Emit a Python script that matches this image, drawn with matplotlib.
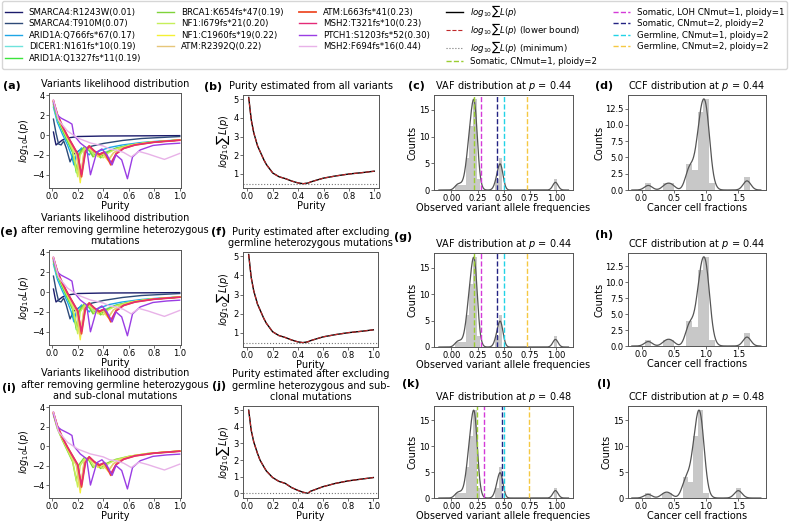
import numpy as np
import matplotlib.pyplot as plt

W, H = 789, 523

# variants and the purity each one gives
variant_names = ['SMARCA4:R1243W(0.01)', 'SMARCA4:T910M(0.07)', 'ARID1A:Q766fs*67(0.17)',
                 'DICER1:N161fs*10(0.19)', 'ARID1A:Q1327fs*11(0.19)', 'BRCA1:K654fs*47(0.19)',
                 'NF1:I679fs*21(0.20)', 'NF1:C1960fs*19(0.22)', 'ATM:R2392Q(0.22)',
                 'ATM:L663fs*41(0.23)', 'MSH2:T321fs*10(0.23)', 'PTCH1:S1203fs*52(0.30)',
                 'MSH2:F694fs*16(0.44)']
variant_colors = ['#1b1b6b', '#2e4a78', '#1ea6e6', '#6fe3dc', '#3ce43c', '#7fd33a',
                  '#c6ef5a', '#f4f034', '#e6c67a', '#ee4d2a', '#e42a78', '#9a3de4', '#e8b2e8']
clonal_idx = [5, 6, 7, 8, 9, 10, 11, 12]

# log10 L(p), knots per variant
p_dicer = [0.01, 0.04, 0.08, 0.12, 0.16, 0.19, 0.21, 0.25, 0.29, 0.32, 0.35, 0.38, 0.42, 0.5, 0.6, 0.75, 0.9, 1.0]
p_nf1 = [0.01, 0.04, 0.08, 0.12, 0.16, 0.2, 0.22, 0.26, 0.3, 0.33, 0.36, 0.4, 0.44, 0.5, 0.6, 0.75, 0.9, 1.0]
p_atm = [0.01, 0.04, 0.08, 0.12, 0.16, 0.19, 0.22, 0.25, 0.28, 0.32, 0.36, 0.39, 0.44, 0.48, 0.55, 0.65, 0.8, 1.0]
p_l663 = [0.01, 0.04, 0.08, 0.12, 0.16, 0.2, 0.23, 0.26, 0.29, 0.33, 0.37, 0.41, 0.46, 0.5, 0.56, 0.65, 0.8, 1.0]
lik_purity = [
    [0.01, 0.02, 0.03, 0.05, 0.08, 0.12, 0.2, 0.4, 0.7, 1.0],
    [0.01, 0.03, 0.05, 0.07, 0.09, 0.11, 0.14, 0.17, 0.22, 0.3, 0.4, 0.55, 0.7, 0.85, 1.0],
    [0.01, 0.04, 0.08, 0.12, 0.15, 0.17, 0.19, 0.23, 0.26, 0.29, 0.31, 0.34, 0.37, 0.45, 0.55, 0.7, 0.85, 1.0],
    p_dicer, p_dicer, p_dicer, p_nf1, p_atm, p_atm, p_l663, p_l663,
    [0.01, 0.04, 0.07, 0.1, 0.13, 0.155, 0.17, 0.22, 0.27, 0.3, 0.35, 0.39, 0.43, 0.47, 0.5, 0.545,
     0.59, 0.63, 0.69, 0.79, 0.9, 1.0],
    [0.01, 0.05, 0.12, 0.2, 0.3, 0.4, 0.45, 0.5, 0.56, 0.62, 0.68, 0.75, 0.82, 0.88, 0.94, 1.0],
]
lik_value = [
    [0.3, -0.4, -1.0, -0.8, -0.5, -0.3, -0.15, -0.1, -0.08, -0.06],
    [1.6, 0.2, -0.9, -1.0, -0.6, -1.3, -2.7, -1.9, -1.5, -1.15, -0.85, -0.55, -0.35, -0.25, -0.15],
    [2.8, 1.3, 0.1, -1.0, -2.0, -3.0, -1.9, -1.3, -1.6, -2.0, -1.7, -1.9, -1.6, -1.25, -1.0, -0.75, -0.6, -0.5],
    [3.0, 1.6, 0.4, -0.7, -1.8, -3.4, -2.0, -1.4, -1.6, -2.0, -1.7, -2.1, -1.7, -1.3, -1.0, -0.75, -0.6, -0.5],
    [3.1, 1.7, 0.5, -0.6, -1.7, -3.8, -2.0, -1.3, -1.5, -2.1, -1.8, -2.2, -1.8, -1.35, -1.05, -0.75, -0.6, -0.5],
    [3.2, 1.8, 0.6, -0.5, -1.6, -3.6, -1.9, -1.2, -1.5, -2.2, -1.9, -2.3, -1.8, -1.35, -1.05, -0.75, -0.6, -0.5],
    [3.3, 1.9, 0.7, -0.4, -1.5, -4.2, -2.0, -1.2, -1.5, -2.1, -1.8, -2.3, -1.8, -1.4, -1.05, -0.75, -0.6, -0.5],
    [3.4, 2.0, 0.8, -0.2, -1.2, -2.0, -4.8, -1.6, -1.2, -1.6, -2.2, -1.8, -2.6, -1.8, -1.3, -0.95, -0.7, -0.5],
    [3.4, 2.0, 0.8, -0.2, -1.2, -2.0, -4.4, -1.6, -1.2, -1.6, -2.1, -1.8, -2.5, -1.8, -1.3, -0.95, -0.7, -0.5],
    [3.4, 2.1, 0.9, -0.1, -1.0, -1.9, -4.2, -1.7, -1.1, -1.6, -2.0, -1.7, -3.0, -1.9, -1.35, -1.0, -0.72, -0.52],
    [3.5, 2.1, 0.9, -0.1, -1.0, -1.9, -4.0, -1.7, -1.1, -1.6, -1.9, -1.7, -2.8, -1.9, -1.35, -1.0, -0.72, -0.52],
    [3.3, 2.0, 1.7, 1.5, 1.3, 1.1, 0.0, -0.8, -1.3, -4.0, -1.7, -1.4, -2.0, -3.0, -2.0, -2.5,
     -4.4, -2.2, -1.5, -1.05, -0.9, -0.82],
    [3.5, 1.5, 0.4, -0.3, -0.8, -1.1, -1.4, -1.5, -1.75, -2.2, -1.65, -1.9, -2.2, -2.45, -2.15, -1.85],
]

# summed likelihood
sum_purity = [0.01, 0.03, 0.05, 0.08, 0.1, 0.13, 0.15, 0.2, 0.25, 0.3, 0.35, 0.4, 0.44, 0.48, 0.5,
              0.6, 0.7, 0.8, 0.9, 1.0]
sum_all = [5.1, 3.9, 3.2, 2.5, 2.2, 1.75, 1.5, 1.05, 0.85, 0.75, 0.62, 0.52, 0.48, 0.52, 0.58,
           0.78, 0.9, 1.0, 1.07, 1.15]
sum_clonal = [5.0, 3.8, 3.1, 2.4, 2.0, 1.6, 1.35, 0.95, 0.72, 0.6, 0.35, 0.18, 0.07, 0.0, 0.12,
              0.4, 0.6, 0.75, 0.85, 0.95]

# VAF histogram (bin centres, counts)
vaf_centers = [0.05, 0.085, 0.12, 0.155, 0.19, 0.225, 0.26, 0.435, 0.47, 0.995]
vaf_counts = [1, 1, 1, 6, 12, 17, 2, 2, 6, 2]
vaf_binw = 0.035

# CCF histograms
ccf44_centers = [0.105, 0.375, 0.465, 0.735, 0.825, 0.915, 1.005, 1.095, 1.635]
ccf44_counts = [1, 1, 1, 4, 3, 12, 14, 1, 2]
ccf44_binw = 0.09
ccf48_centers = [0.1, 0.35, 0.43, 0.68, 0.76, 0.84, 0.92, 1.0, 1.5]
ccf48_counts = [1, 1, 1, 4, 3, 12, 17, 1, 2]
ccf48_binw = 0.08

# expected VAF lines for each purity
line_labels = ['Somatic, CNmut=1, ploidy=2', 'Somatic, LOH CNmut=1, ploidy=1',
               'Somatic, CNmut=2, ploidy=2', 'Germline, CNmut=1, ploidy=2',
               'Germline, CNmut=2, ploidy=2']
line_colors = ['yellowgreen', '#d43ad8', '#232383', '#22d3e6', '#f5c842']
vlines_44 = [0.22, 0.282, 0.44, 0.5, 0.72]
vlines_48 = [0.24, 0.316, 0.48, 0.5, 0.74]


def box(l, t, r, b):
    return [l / W, 1 - b / H, (r - l) / W, (b - t) / H]


def style(ax):
    for s in ax.spines.values():
        s.set_color('#555555')
        s.set_linewidth(0.7)
    ax.tick_params(labelsize=6, length=2, width=0.6, pad=1, color='#555555')


def kde(centers, counts, bw, grid):
    d = np.zeros_like(grid)
    for c, n in zip(centers, counts):
        d += n * np.exp(-0.5 * ((grid - c) / bw) ** 2)
    return d / d.max() * max(counts)


fig = plt.figure(figsize=(W / 100, H / 100), dpi=100)

tfs = 7
lfs = 7


def lik_panel(rect, idx, title):
    ax = fig.add_axes(box(*rect))
    hs = []
    for i in idx:
        lw = 1.3 if i == 9 else 1.0
        h, = ax.plot(lik_purity[i], lik_value[i], color=variant_colors[i], lw=lw,
                     label=variant_names[i])
        hs.append(h)
    ax.set_xlim(-0.025, 1.01)
    ax.set_ylim(-5.33, 4.23)
    ax.set_yticks([-4, -2, 0, 2, 4])
    ax.set_xticks([0, 0.2, 0.4, 0.6, 0.8, 1.0])
    ax.set_xlabel('Purity', fontsize=lfs, labelpad=0)
    ax.set_ylabel('$log_{10}L(p)$', fontsize=lfs, labelpad=1)
    ax.set_title(title, fontsize=tfs, pad=4)
    style(ax)
    return hs


def sum_panel(rect, vals, title, ylim, yticks):
    ax = fig.add_axes(box(*rect))
    h1, = ax.plot(sum_purity, vals, color='black', lw=1.0, label='$log_{10}\\sum L(p)$')
    h2, = ax.plot(sum_purity, vals, color='#c0282a', lw=0.8, ls='--',
                  label='$log_{10}\\sum L(p)$ (lower bound)')
    h3 = ax.axhline(min(vals), color='#777777', lw=0.8, ls=':',
                    label='$log_{10}\\sum L(p)$ (minimum)')
    ax.set_xlim(-0.035, 1.037)
    ax.set_ylim(*ylim)
    ax.set_yticks(yticks)
    ax.set_xticks([0, 0.2, 0.4, 0.6, 0.8, 1.0])
    ax.set_xlabel('Purity', fontsize=lfs, labelpad=0)
    ax.set_ylabel('$log_{10}\\sum L(p)$', fontsize=lfs, labelpad=1)
    ax.set_title(title, fontsize=tfs, pad=4)
    style(ax)
    return [h1, h2, h3]


def vaf_panel(rect, vl, title):
    ax = fig.add_axes(box(*rect))
    ax.bar(vaf_centers, vaf_counts, width=vaf_binw, color='#c8c8c8', lw=0)
    g = np.linspace(-0.12, 1.12, 400)
    ax.plot(g, kde(vaf_centers, vaf_counts, 0.025, g), color='#555555', lw=0.9)
    hs = []
    for x, c, lab in zip(vl, line_colors, line_labels):
        hs.append(ax.axvline(x, color=c, lw=1.0, ls='--', label=lab))
    ax.set_xlim(-0.167, 1.163)
    ax.set_ylim(0, 17.8)
    ax.set_yticks([0, 5, 10, 15])
    ax.set_xticks([0, 0.25, 0.5, 0.75, 1.0])
    ax.set_xticklabels(['0.00', '0.25', '0.50', '0.75', '1.00'])
    ax.set_xlabel('Observed variant allele frequencies', fontsize=lfs, labelpad=0)
    ax.set_ylabel('Counts', fontsize=lfs, labelpad=1)
    ax.set_title(title, fontsize=tfs, pad=4)
    style(ax)
    return hs


def ccf_panel(rect, centers, counts, bw, title, yticks, ylim):
    ax = fig.add_axes(box(*rect))
    ax.bar(centers, counts, width=bw, color='#c8c8c8', lw=0)
    g = np.linspace(-0.15, 1.85, 400)
    ax.plot(g, kde(centers, counts, 0.06, g), color='#555555', lw=0.9)
    ax.set_xlim(-0.21, 1.93)
    ax.set_ylim(*ylim)
    ax.set_yticks(yticks)
    ax.set_xticks([0, 0.5, 1.0, 1.5])
    ax.set_xlabel('Cancer cell fractions', fontsize=lfs, labelpad=0)
    ax.set_ylabel('Counts', fontsize=lfs, labelpad=1)
    ax.set_title(title, fontsize=tfs, pad=4)
    style(ax)


all_idx = list(range(len(variant_names)))
var_handles = lik_panel((49, 93, 181, 188), all_idx, 'Variants likelihood distribution')
sum_handles = sum_panel((243, 95, 379, 188), sum_all, 'Purity estimated from all variants',
                        (0.25, 5.23), [1, 2, 3, 4, 5])
line_handles = vaf_panel((434, 95, 573, 190), vlines_44, 'VAF distribution at $p$ = 0.44')
ccf_panel((628, 95, 766, 190), ccf44_centers, ccf44_counts, ccf44_binw,
          'CCF distribution at $p$ = 0.44', [0, 2.5, 5, 7.5, 10, 12.5], (0, 14.6))

lik_panel((49, 250, 181, 345), all_idx,
          'Variants likelihood distribution\nafter removing germline heterozygous\nmutations')
sum_panel((243, 252, 378, 347), sum_all,
          'Purity estimated after excluding\ngermline heterozygous mutations',
          (0.25, 5.23), [1, 2, 3, 4, 5])
vaf_panel((434, 253, 573, 347), vlines_44, 'VAF distribution at $p$ = 0.44')
ccf_panel((628, 253, 766, 346), ccf44_centers, ccf44_counts, ccf44_binw,
          'CCF distribution at $p$ = 0.44', [0, 2.5, 5, 7.5, 10, 12.5], (0, 14.6))

lik_panel((49, 405, 181, 498), clonal_idx,
          'Variants likelihood distribution\nafter removing germline heterozygous\nand sub-clonal mutations')
sum_panel((243, 406, 378, 498), sum_clonal,
          'Purity estimated after excluding\ngermline heterozygous and sub-\nclonal mutations',
          (-0.28, 5.25), [0, 1, 2, 3, 4, 5])
vaf_panel((434, 406, 573, 498), vlines_48, 'VAF distribution at $p$ = 0.48')
ccf_panel((628, 406, 766, 498), ccf48_centers, ccf48_counts, ccf48_binw,
          'CCF distribution at $p$ = 0.48', [0, 5, 10, 15], (0, 17.8))

# panel letters
letters = [('(a)', 12, 86), ('(b)', 213, 87), ('(c)', 416, 86), ('(d)', 604, 86),
           ('(e)', 9, 232), ('(f)', 219, 232), ('(g)', 403, 237), ('(h)', 604, 235),
           ('(i)', 9, 388), ('(j)', 219, 386), ('(k)', 411, 384), ('(l)', 604, 384)]
for t, x, y in letters:
    fig.text(x / W, 1 - y / H, t, fontsize=8, fontweight='bold', ha='center', va='center')

handles = var_handles + sum_handles + line_handles
fig.legend(handles, [h.get_label() for h in handles], loc='upper left', ncol=5, mode='expand',
           bbox_to_anchor=(2 / W, 1 - 70 / H, 785 / W, 69 / H), fontsize=6.2,
           handlelength=2.0, labelspacing=0.3, borderpad=0.3, borderaxespad=0, frameon=True)

fig.savefig('out.png', dpi=100)
